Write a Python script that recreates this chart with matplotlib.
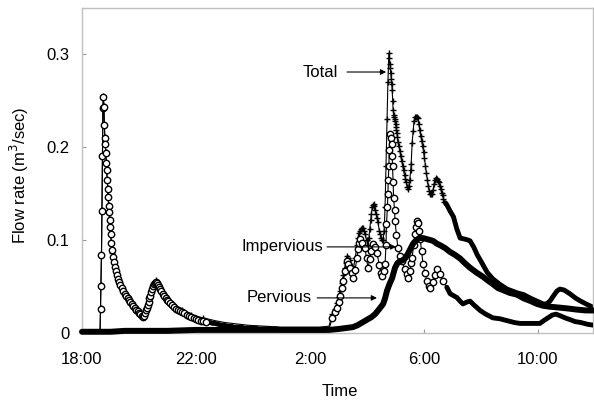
import numpy as np
import matplotlib
matplotlib.use("Agg")
import matplotlib.pyplot as plt

plt.rcParams['font.family'] = ['Liberation Sans', 'DejaVu Sans']

# (minutes after 18:00, flow rate in m3/s)
impervious = [
    (0, 0.0), (15, 0.0), (30, 0.0), (38, 0.0), (39, 0.026), (40, 0.05), (41, 0.084),
    (42, 0.131), (43, 0.19), (44, 0.242), (45, 0.254), (46, 0.243), (47, 0.224),
    (48, 0.21), (49, 0.203), (50, 0.194), (51, 0.183), (52, 0.175), (53, 0.165),
    (54, 0.155), (55, 0.146), (56, 0.137), (57, 0.13), (58, 0.122), (59, 0.114),
    (60, 0.106), (62, 0.097), (64, 0.089), (66, 0.082), (68, 0.076), (70, 0.071),
    (72, 0.066), (74, 0.062), (76, 0.058), (78, 0.055), (81, 0.051), (84, 0.048),
    (87, 0.045), (90, 0.042), (93, 0.04), (96, 0.037), (99, 0.035), (102, 0.033),
    (105, 0.031), (108, 0.029), (111, 0.027), (114, 0.025), (117, 0.023),
    (120, 0.021), (123, 0.02), (126, 0.018), (128, 0.017), (130, 0.018),
    (132, 0.021), (134, 0.024), (136, 0.027), (138, 0.03), (140, 0.033),
    (142, 0.037), (144, 0.04), (146, 0.044), (148, 0.047), (150, 0.05),
    (152, 0.052), (154, 0.054), (156, 0.055), (158, 0.054), (160, 0.051),
    (162, 0.049), (164, 0.047), (167, 0.045), (170, 0.042), (173, 0.04),
    (176, 0.037), (179, 0.035), (182, 0.034), (186, 0.032), (190, 0.03),
    (194, 0.028), (198, 0.026), (202, 0.025), (206, 0.023), (210, 0.022),
    (215, 0.021), (220, 0.019), (225, 0.018), (230, 0.017), (235, 0.016),
    (240, 0.015), (245, 0.014), (250, 0.013), (255, 0.013), (260, 0.012),
    (265, 0.011), (270, 0.011), (275, 0.01), (280, 0.01), (287, 0.009),
    (294, 0.008), (300, 0.008), (307, 0.007), (314, 0.007), (320, 0.006),
    (328, 0.006), (335, 0.006), (342, 0.005), (350, 0.005), (358, 0.005),
    (365, 0.005), (372, 0.004), (380, 0.004), (388, 0.004), (395, 0.004),
    (402, 0.004), (410, 0.004), (418, 0.003), (425, 0.003), (440, 0.003),
    (455, 0.003), (470, 0.003), (485, 0.003), (500, 0.003), (512, 0.003),
    (520, 0.004), (527, 0.016), (532, 0.022), (537, 0.027), (540, 0.033),
    (543, 0.04), (547, 0.048), (550, 0.056), (554, 0.066), (558, 0.077),
    (561, 0.074), (564, 0.07), (568, 0.064), (571, 0.059), (575, 0.068),
    (579, 0.081), (581, 0.09), (583, 0.097), (585, 0.101), (590, 0.097),
    (596, 0.091), (599, 0.08), (602, 0.07), (606, 0.079), (609, 0.088),
    (613, 0.096), (617, 0.092), (621, 0.086), (626, 0.073), (630, 0.064),
    (632, 0.061), (635, 0.066), (638, 0.074), (640, 0.095), (641, 0.117),
    (643, 0.135), (644, 0.15), (645, 0.165), (646, 0.18), (647, 0.197),
    (648, 0.214), (650, 0.21), (652, 0.203), (653, 0.19), (654, 0.18),
    (655, 0.162), (656, 0.145), (658, 0.132), (659, 0.12), (662, 0.105),
    (665, 0.091), (670, 0.083), (674, 0.077), (679, 0.069), (684, 0.063),
    (686, 0.059), (690, 0.066), (693, 0.075), (695, 0.081), (698, 0.094),
    (701, 0.106), (703, 0.114), (705, 0.12), (707, 0.118), (710, 0.11),
    (712, 0.101), (715, 0.088), (718, 0.074), (722, 0.064), (726, 0.056),
    (730, 0.05), (733, 0.048), (738, 0.055), (743, 0.062), (747, 0.069),
    (753, 0.063), (760, 0.056), (768, 0.049), (775, 0.042), (782, 0.04),
    (789, 0.038), (796, 0.034), (802, 0.031), (810, 0.033), (817, 0.034),
    (825, 0.03), (838, 0.024), (850, 0.02), (865, 0.016), (880, 0.015),
    (895, 0.013), (910, 0.011), (922, 0.01), (940, 0.01), (955, 0.01),
    (964, 0.01), (972, 0.013), (981, 0.016), (990, 0.019), (998, 0.02),
    (1008, 0.018), (1017, 0.016), (1028, 0.014), (1038, 0.012), (1050, 0.011),
    (1065, 0.009), (1078, 0.008),
]

pervious = [
    (0, 0.001), (30, 0.001), (60, 0.001), (90, 0.002), (120, 0.002), (180, 0.002),
    (240, 0.003), (300, 0.003), (360, 0.003), (420, 0.003), (480, 0.003),
    (520, 0.003), (540, 0.004), (555, 0.005), (570, 0.006), (580, 0.008),
    (590, 0.011), (600, 0.014), (610, 0.017), (617, 0.02), (625, 0.025),
    (634, 0.031), (638, 0.037), (642, 0.045), (647, 0.052), (653, 0.059),
    (659, 0.07), (664, 0.075), (669, 0.077), (675, 0.078), (680, 0.08),
    (686, 0.085), (692, 0.091), (697, 0.096), (704, 0.1), (711, 0.102),
    (718, 0.102), (725, 0.101), (732, 0.1), (739, 0.099), (747, 0.096),
    (755, 0.094), (765, 0.091), (775, 0.087), (785, 0.084), (796, 0.08),
    (806, 0.075), (817, 0.07), (830, 0.065), (845, 0.06), (855, 0.056),
    (866, 0.052), (876, 0.048), (886, 0.046), (900, 0.043), (916, 0.041),
    (930, 0.037), (945, 0.034), (958, 0.031), (971, 0.029), (985, 0.028),
    (1006, 0.027), (1025, 0.026), (1040, 0.025), (1060, 0.024), (1078, 0.024),
]

total = [
    (0, 0.001), (38, 0.001), (39, 0.027), (40, 0.051), (41, 0.085), (42, 0.132),
    (43, 0.191), (44, 0.243), (45, 0.255), (46, 0.244), (48, 0.211), (50, 0.195),
    (52, 0.176), (54, 0.156), (56, 0.138), (58, 0.123), (60, 0.107), (64, 0.086),
    (69, 0.071), (76, 0.056), (86, 0.045), (101, 0.033), (118, 0.024),
    (128, 0.019), (137, 0.029), (147, 0.047), (155, 0.057), (162, 0.051),
    (174, 0.041), (192, 0.031), (210, 0.024), (230, 0.019), (255, 0.016),
    (280, 0.013), (300, 0.011), (350, 0.008), (420, 0.006), (500, 0.006),
    (520, 0.007), (527, 0.02), (532, 0.026), (537, 0.032), (540, 0.038),
    (543, 0.045), (547, 0.054), (550, 0.062), (553, 0.07), (555, 0.075),
    (558, 0.083), (561, 0.081), (564, 0.078), (568, 0.072), (571, 0.068),
    (575, 0.08), (579, 0.094), (581, 0.102), (583, 0.108), (585, 0.11),
    (587, 0.112), (589, 0.113), (591, 0.113), (594, 0.11), (596, 0.106),
    (599, 0.1), (602, 0.094), (604, 0.102), (606, 0.112), (608, 0.122),
    (609, 0.128), (611, 0.135), (612, 0.138), (614, 0.139), (615, 0.137),
    (617, 0.132), (619, 0.128), (621, 0.124), (623, 0.119), (626, 0.11),
    (628, 0.106), (630, 0.102), (632, 0.1), (634, 0.1), (636, 0.11),
    (638, 0.135), (640, 0.18), (642, 0.23), (644, 0.27), (646, 0.301),
    (647, 0.296), (648, 0.29), (649, 0.285), (650, 0.28), (651, 0.274),
    (652, 0.268), (653, 0.262), (654, 0.25), (655, 0.24), (656, 0.235),
    (657, 0.232), (658, 0.23), (659, 0.228), (660, 0.225), (661, 0.222),
    (662, 0.219), (663, 0.215), (664, 0.211), (665, 0.206), (667, 0.201),
    (669, 0.196), (671, 0.19), (673, 0.185), (675, 0.18), (677, 0.175),
    (679, 0.17), (681, 0.166), (683, 0.162), (685, 0.157), (686, 0.155),
    (688, 0.158), (690, 0.165), (692, 0.175), (693, 0.182), (695, 0.205),
    (697, 0.217), (699, 0.228), (701, 0.233), (703, 0.233), (705, 0.232),
    (707, 0.231), (709, 0.225), (711, 0.218), (713, 0.212), (715, 0.207),
    (717, 0.201), (719, 0.195), (721, 0.188), (723, 0.18), (725, 0.172),
    (727, 0.165), (729, 0.158), (731, 0.153), (733, 0.15), (735, 0.149),
    (737, 0.149), (739, 0.154), (741, 0.16), (743, 0.165), (745, 0.167),
    (747, 0.166), (749, 0.164), (751, 0.162), (753, 0.158), (755, 0.155),
    (757, 0.151), (759, 0.148), (761, 0.144), (763, 0.141), (765, 0.14),
    (768, 0.138), (775, 0.131), (782, 0.125), (789, 0.112), (796, 0.102),
    (805, 0.101), (812, 0.1), (817, 0.099), (825, 0.092), (832, 0.084),
    (840, 0.077), (853, 0.065), (865, 0.058), (880, 0.052), (895, 0.047),
    (916, 0.043), (930, 0.041), (945, 0.037), (958, 0.034), (971, 0.031),
    (978, 0.031), (985, 0.034), (993, 0.04), (1000, 0.045), (1006, 0.047),
    (1015, 0.046), (1027, 0.042), (1040, 0.037), (1050, 0.034), (1065, 0.03),
    (1078, 0.027),
]

tick_hours = [0, 4, 8, 12, 16]
tick_labels = ['18:00', '22:00', '2:00', '6:00', '10:00']


def to_hours(series):
    arr = np.array(series, dtype=float)
    return arr[:, 0] / 60.0, arr[:, 1]


t_imp, q_imp = to_hours(impervious)
t_per, q_per = to_hours(pervious)
t_tot, q_tot = to_hours(total)

fig = plt.figure(figsize=(5.94, 4.0), dpi=100)
ax = fig.add_axes([82 / 594, 67.3 / 400, 511 / 594, 324.7 / 400])

band = dict(color='black', lw=3.5, solid_capstyle='round',
            solid_joinstyle='round')

# Where readings are logged so close together that the markers merge
# into a solid band, a thick line is drawn instead of markers.
night = lambda t: (t >= 4.4) & (t <= 8.67)
late = lambda t: t >= 12.75

# total: thin line with '+' markers, thick after the last peak
ax.plot(t_tot[t_tot <= 12.8], q_tot[t_tot <= 12.8], color='black', lw=0.8,
        zorder=2)
ax.plot(t_tot, np.where(night(t_tot) | late(t_tot), np.nan, q_tot), ls='none',
        marker='+', ms=4.5, mew=1.0, color='black', zorder=2)
ax.plot(t_tot[late(t_tot)], q_tot[late(t_tot)], zorder=2, **band)

# impervious: open circles
ax.plot(t_imp, q_imp, color='black', lw=0.8, zorder=3)
ax.plot(t_imp[night(t_imp)], q_imp[night(t_imp)], zorder=3, **band)
ax.plot(t_imp[late(t_imp)], q_imp[late(t_imp)], zorder=3, **band)
ax.plot(t_imp, np.where(night(t_imp) | late(t_imp), np.nan, q_imp), ls='none',
        marker='o', ms=4.6, mfc='white', mec='black', mew=1.0, zorder=3)

# pervious: solid heavy line
ax.plot(t_per, q_per, color='black', lw=4.3, zorder=4, clip_on=False,
        solid_capstyle='round', solid_joinstyle='round')

ax.set_xlim(0, 511 / 28.5)
ax.set_ylim(0, 0.35)
ax.set_xticks(tick_hours)
ax.set_xticklabels(tick_labels)
ax.set_yticks([0, 0.1, 0.2, 0.3])
ax.set_yticklabels(['0', '0.1', '0.2', '0.3'])
ax.tick_params(direction='in', length=3, width=0.8, color='#999999', labelsize=12)
ax.tick_params(axis='x', pad=14)
ax.tick_params(axis='y', pad=9)
for s in ax.spines.values():
    s.set_color('#c0c0c0')
    s.set_linewidth(1)

ax.set_xlabel('Time', fontsize=12)
ax.xaxis.set_label_coords(0.505, -0.158)
ax.set_ylabel('Flow rate (m$^3$/sec)', fontsize=12)
ax.yaxis.set_label_coords(-0.1, 0.486)

# series labels with arrows
arrow = dict(arrowstyle='-|>', color='black', lw=0.8, mutation_scale=8,
             shrinkA=0, shrinkB=0)
labels = [('Total', 8.98, 0.281, 9.30, 10.67),
          ('Impervious', 8.46, 0.0925, 8.60, 11.02),
          ('Pervious', 8.07, 0.0375, 8.25, 10.35)]
for text, tx, ty, x0, x1 in labels:
    ax.text(tx, ty, text, ha='right', va='center', fontsize=12)
    ax.annotate('', xy=(x1, ty), xytext=(x0, ty), arrowprops=arrow)

fig.savefig('out.png', dpi=100)
